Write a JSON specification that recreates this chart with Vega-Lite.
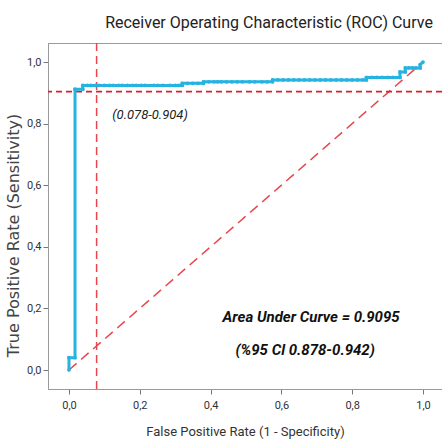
{
  "$schema": "https://vega.github.io/schema/vega-lite/v6.json",
  "width": 394,
  "height": 346,
  "autosize": {"type": "none"},
  "padding": {"left": 48, "top": 43, "right": 0, "bottom": 55},
  "background": "white",
  "title": {
    "text": "Receiver Operating Characteristic (ROC) Curve",
    "font": "Roboto, sans-serif",
    "fontSize": 16,
    "fontWeight": "normal",
    "color": "#222222",
    "anchor": "middle",
    "dx": 24,
    "offset": 11
  },
  "config": {
    "view": {"stroke": "#9a9a9a", "strokeWidth": 1},
    "axis": {
      "grid": false,
      "domainColor": "#9a9a9a",
      "tickColor": "#777777",
      "tickSize": 5,
      "labelFont": "Roboto, sans-serif",
      "labelFontSize": 11,
      "labelColor": "#333333",
      "titleFontWeight": "normal",
      "titleColor": "#333333"
    }
  },
  "datasets": {
    "roc": [
      {"i": 0, "fpr": 0, "tpr": 0},
      {"i": 1, "fpr": 0, "tpr": 0.04},
      {"i": 2, "fpr": 0.017, "tpr": 0.04},
      {"i": 3, "fpr": 0.017, "tpr": 0.912},
      {"i": 4, "fpr": 0.039, "tpr": 0.912},
      {"i": 5, "fpr": 0.039, "tpr": 0.924},
      {"i": 6, "fpr": 0.052, "tpr": 0.924},
      {"i": 7, "fpr": 0.062, "tpr": 0.924},
      {"i": 8, "fpr": 0.075, "tpr": 0.924},
      {"i": 9, "fpr": 0.085, "tpr": 0.924},
      {"i": 10, "fpr": 0.1, "tpr": 0.924},
      {"i": 11, "fpr": 0.115, "tpr": 0.924},
      {"i": 12, "fpr": 0.125, "tpr": 0.924},
      {"i": 13, "fpr": 0.14, "tpr": 0.924},
      {"i": 14, "fpr": 0.15, "tpr": 0.924},
      {"i": 15, "fpr": 0.165, "tpr": 0.924},
      {"i": 16, "fpr": 0.18, "tpr": 0.924},
      {"i": 17, "fpr": 0.19, "tpr": 0.924},
      {"i": 18, "fpr": 0.205, "tpr": 0.924},
      {"i": 19, "fpr": 0.215, "tpr": 0.924},
      {"i": 20, "fpr": 0.24, "tpr": 0.924},
      {"i": 21, "fpr": 0.25, "tpr": 0.924},
      {"i": 22, "fpr": 0.265, "tpr": 0.924},
      {"i": 23, "fpr": 0.285, "tpr": 0.924},
      {"i": 24, "fpr": 0.3, "tpr": 0.924},
      {"i": 25, "fpr": 0.31, "tpr": 0.924},
      {"i": 26, "fpr": 0.32, "tpr": 0.924},
      {"i": 27, "fpr": 0.32, "tpr": 0.931},
      {"i": 28, "fpr": 0.335, "tpr": 0.931},
      {"i": 29, "fpr": 0.35, "tpr": 0.931},
      {"i": 30, "fpr": 0.365, "tpr": 0.931},
      {"i": 31, "fpr": 0.38, "tpr": 0.931},
      {"i": 32, "fpr": 0.38, "tpr": 0.936},
      {"i": 33, "fpr": 0.395, "tpr": 0.936},
      {"i": 34, "fpr": 0.41, "tpr": 0.936},
      {"i": 35, "fpr": 0.42, "tpr": 0.936},
      {"i": 36, "fpr": 0.43, "tpr": 0.936},
      {"i": 37, "fpr": 0.445, "tpr": 0.936},
      {"i": 38, "fpr": 0.46, "tpr": 0.936},
      {"i": 39, "fpr": 0.475, "tpr": 0.936},
      {"i": 40, "fpr": 0.49, "tpr": 0.936},
      {"i": 41, "fpr": 0.51, "tpr": 0.936},
      {"i": 42, "fpr": 0.525, "tpr": 0.936},
      {"i": 43, "fpr": 0.545, "tpr": 0.936},
      {"i": 44, "fpr": 0.56, "tpr": 0.936},
      {"i": 45, "fpr": 0.575, "tpr": 0.936},
      {"i": 46, "fpr": 0.575, "tpr": 0.942},
      {"i": 47, "fpr": 0.59, "tpr": 0.942},
      {"i": 48, "fpr": 0.605, "tpr": 0.942},
      {"i": 49, "fpr": 0.62, "tpr": 0.942},
      {"i": 50, "fpr": 0.635, "tpr": 0.942},
      {"i": 51, "fpr": 0.65, "tpr": 0.942},
      {"i": 52, "fpr": 0.665, "tpr": 0.942},
      {"i": 53, "fpr": 0.68, "tpr": 0.942},
      {"i": 54, "fpr": 0.695, "tpr": 0.942},
      {"i": 55, "fpr": 0.71, "tpr": 0.942},
      {"i": 56, "fpr": 0.725, "tpr": 0.942},
      {"i": 57, "fpr": 0.74, "tpr": 0.942},
      {"i": 58, "fpr": 0.755, "tpr": 0.942},
      {"i": 59, "fpr": 0.77, "tpr": 0.942},
      {"i": 60, "fpr": 0.785, "tpr": 0.942},
      {"i": 61, "fpr": 0.8, "tpr": 0.942},
      {"i": 62, "fpr": 0.815, "tpr": 0.942},
      {"i": 63, "fpr": 0.83, "tpr": 0.942},
      {"i": 64, "fpr": 0.84, "tpr": 0.942},
      {"i": 65, "fpr": 0.84, "tpr": 0.95},
      {"i": 66, "fpr": 0.855, "tpr": 0.95},
      {"i": 67, "fpr": 0.87, "tpr": 0.95},
      {"i": 68, "fpr": 0.885, "tpr": 0.95},
      {"i": 69, "fpr": 0.9, "tpr": 0.95},
      {"i": 70, "fpr": 0.915, "tpr": 0.95},
      {"i": 71, "fpr": 0.935, "tpr": 0.95},
      {"i": 72, "fpr": 0.935, "tpr": 0.968},
      {"i": 73, "fpr": 0.95, "tpr": 0.968},
      {"i": 74, "fpr": 0.95, "tpr": 0.981},
      {"i": 75, "fpr": 0.96, "tpr": 0.981},
      {"i": 76, "fpr": 0.97, "tpr": 0.981},
      {"i": 77, "fpr": 0.98, "tpr": 0.981},
      {"i": 78, "fpr": 0.992, "tpr": 0.981},
      {"i": 79, "fpr": 0.992, "tpr": 0.992},
      {"i": 80, "fpr": 1.0, "tpr": 1.0}
    ],
    "diag": [
      {"fpr": 0, "tpr": 0},
      {"fpr": 1, "tpr": 1}
    ],
    "notes": [
      {"fpr": 0.229, "tpr": 0.828, "label": "(0.078-0.904)", "kind": "cut"},
      {"fpr": 0.684, "tpr": 0.172, "label": "Area Under Curve = 0.9095", "kind": "auc"},
      {"fpr": 0.667, "tpr": 0.065, "label": "(%95 Cl 0.878-0.942)", "kind": "auc"}
    ]
  },
  "layer": [
    {
      "data": {"name": "diag"},
      "mark": {"type": "line", "color": "#e8464d", "strokeWidth": 1.5, "strokeDash": [10, 6]},
      "encoding": {
        "x": {
          "field": "fpr", "type": "quantitative",
          "scale": {"domain": [-0.0593, 1.0537], "nice": false, "zero": false},
          "axis": {
            "values": [0, 0.2, 0.4, 0.6, 0.8, 1.0],
            "labelExpr": "replace(format(datum.value, '.1f'), '.', ',')",
            "title": "False Positive Rate (1 - Specificity)",
            "titleFont": "Roboto, sans-serif",
            "titleFontSize": 13,
            "titlePadding": 15,
            "labelPadding": 5
          }
        },
        "y": {
          "field": "tpr", "type": "quantitative",
          "scale": {"domain": [-0.0617, 1.062], "nice": false, "zero": false},
          "axis": {
            "values": [0, 0.2, 0.4, 0.6, 0.8, 1.0],
            "labelExpr": "replace(format(datum.value, '.1f'), '.', ',')",
            "title": "True Positive Rate (Sensitivity)",
            "titleFont": "DejaVu Sans, sans-serif",
            "titleFontSize": 16,
            "titleColor": "#444444",
            "titleY": 192,
            "titlePadding": 5,
            "labelPadding": 2
          }
        }
      }
    },
    {
      "data": {"values": [{"cut": 0.078}]},
      "mark": {"type": "rule", "color": "#e8464d", "strokeWidth": 1.5, "strokeDash": [8, 5]},
      "encoding": {"x": {"field": "cut", "type": "quantitative"}}
    },
    {
      "data": {"values": [{"cut": 0.904}]},
      "mark": {"type": "rule", "color": "#d9202a", "strokeWidth": 1.8, "strokeDash": [6, 4]},
      "encoding": {"y": {"field": "cut", "type": "quantitative"}}
    },
    {
      "data": {"name": "roc"},
      "mark": {
        "type": "line", "color": "#27b3e0", "strokeWidth": 3,
        "point": {"filled": true, "size": 14, "color": "#27b3e0"}
      },
      "encoding": {
        "x": {"field": "fpr", "type": "quantitative"},
        "y": {"field": "tpr", "type": "quantitative"},
        "order": {"field": "i", "type": "quantitative"}
      }
    },
    {
      "data": {"name": "notes"},
      "transform": [{"filter": "datum.kind == 'cut'"}],
      "mark": {
        "type": "text", "font": "Roboto, sans-serif",
        "fontSize": 13, "fontStyle": "italic", "color": "#222222"
      },
      "encoding": {
        "x": {"field": "fpr", "type": "quantitative"},
        "y": {"field": "tpr", "type": "quantitative"},
        "text": {"field": "label"}
      }
    },
    {
      "data": {"name": "notes"},
      "transform": [{"filter": "datum.kind == 'auc'"}],
      "mark": {
        "type": "text", "font": "Roboto, sans-serif",
        "fontSize": 15, "fontStyle": "italic", "fontWeight": "bold", "color": "#111111"
      },
      "encoding": {
        "x": {"field": "fpr", "type": "quantitative"},
        "y": {"field": "tpr", "type": "quantitative"},
        "text": {"field": "label"}
      }
    }
  ]
}
